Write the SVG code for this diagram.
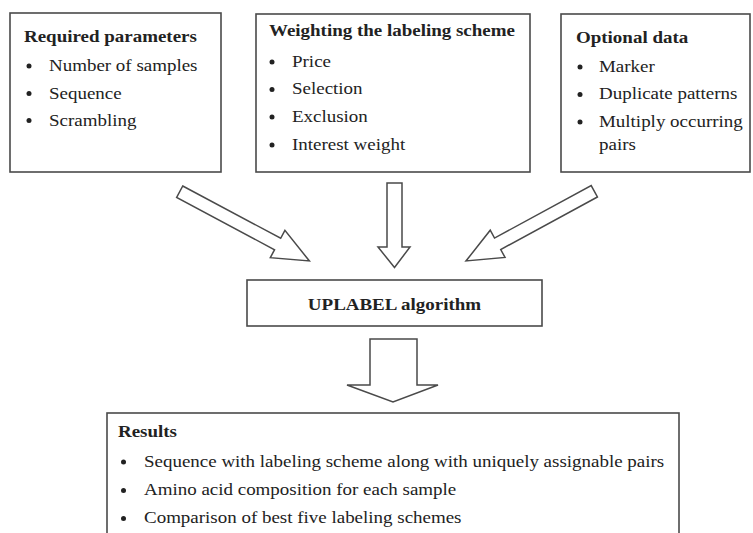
<svg xmlns="http://www.w3.org/2000/svg" width="753" height="533" viewBox="0 0 753 533">
<style>
.box{fill:#fff;stroke:#4a4a4a;stroke-width:1.6}
.arr{fill:#fff;stroke:#4a4a4a;stroke-width:1.5;stroke-linejoin:miter}
.t text{font-size:16.5px;fill:#222}
.b{font-weight:bold}
.dot{fill:#222}
</style>
<rect width="753" height="533" fill="#fff"/>
<g id="connectors">
<polygon class="arr" points="0,-6.5 111,-6.5 111,-15.5 147,0 111,15.5 111,6.5 0,6.5" transform="translate(179.7,191.7) rotate(28.1)"/>
<polygon class="arr" points="0,-6.5 110,-6.5 110,-15.5 146,0 110,15.5 110,6.5 0,6.5" transform="translate(594.3,191.3) rotate(151.5)"/>
<polygon class="arr" points="387,183 402,183 402,247 410,247 394.5,267.5 378,247 387,247"/>
<polygon class="arr" points="370,339 417,339 417,385 438,385 393,402 347,385 370,385"/>
</g>
<g class="t" font-family="Liberation Serif, Times New Roman, DejaVu Serif, serif">
<g id="required">
<rect class="box" x="10" y="13" width="211" height="159"/>
<text class="b" transform="translate(24,42) scale(1.15,1)">Required parameters</text>
<circle class="dot" cx="29" cy="66" r="2.5"/>
<circle class="dot" cx="29" cy="93.5" r="2.5"/>
<circle class="dot" cx="29" cy="120.5" r="2.5"/>
<text transform="translate(49,71) scale(1.15,1)">Number of samples</text>
<text transform="translate(49,98.5) scale(1.15,1)">Sequence</text>
<text transform="translate(49,125.5) scale(1.15,1)">Scrambling</text>
</g>
<g id="weighting">
<rect class="box" x="256" y="14" width="274" height="158"/>
<text class="b" transform="translate(269,36) scale(1.15,1)">Weighting the labeling scheme</text>
<circle class="dot" cx="272" cy="62" r="2.5"/>
<circle class="dot" cx="272" cy="89.5" r="2.5"/>
<circle class="dot" cx="272" cy="117" r="2.5"/>
<circle class="dot" cx="272" cy="145" r="2.5"/>
<text transform="translate(292,66.5) scale(1.15,1)">Price</text>
<text transform="translate(292,94) scale(1.15,1)">Selection</text>
<text transform="translate(292,121.5) scale(1.15,1)">Exclusion</text>
<text transform="translate(292,149.5) scale(1.15,1)">Interest weight</text>
</g>
<g id="optional">
<rect class="box" x="561" y="14" width="189" height="158"/>
<text class="b" transform="translate(576,42.5) scale(1.15,1)">Optional data</text>
<circle class="dot" cx="580" cy="67" r="2.5"/>
<circle class="dot" cx="580" cy="94.5" r="2.5"/>
<circle class="dot" cx="580" cy="122" r="2.5"/>
<text transform="translate(599,71.5) scale(1.15,1)">Marker</text>
<text transform="translate(599,99) scale(1.15,1)">Duplicate patterns</text>
<text transform="translate(599,126.5) scale(1.15,1)">Multiply occurring</text>
<text transform="translate(599,150) scale(1.15,1)">pairs</text>
</g>
<g id="uplabel">
<rect class="box" x="247" y="280" width="295" height="46"/>
<text class="b" text-anchor="middle" transform="translate(394.5,310) scale(1.15,1)">UPLABEL algorithm</text>
</g>
<g id="results">
<rect class="box" x="107" y="413" width="572" height="135"/>
<text class="b" transform="translate(118,437) scale(1.15,1)">Results</text>
<circle class="dot" cx="123.5" cy="462" r="2.5"/>
<circle class="dot" cx="123.5" cy="490.5" r="2.5"/>
<circle class="dot" cx="123.5" cy="518.5" r="2.5"/>
<text transform="translate(144,466.5) scale(1.15,1)">Sequence with labeling scheme along with uniquely assignable pairs</text>
<text transform="translate(144,495) scale(1.15,1)">Amino acid composition for each sample</text>
<text transform="translate(144,523) scale(1.15,1)">Comparison of best five labeling schemes</text>
</g>
</g>
</svg>
